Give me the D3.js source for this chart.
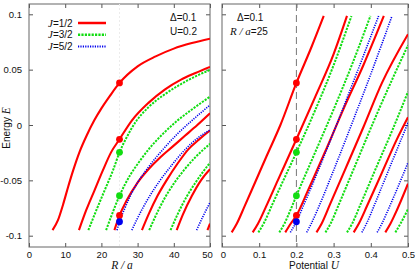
<!DOCTYPE html>
<html>
<head>
<meta charset="utf-8">
<script src="https://cdn.jsdelivr.net/npm/d3@7"></script>
<style>
  body { margin: 0; background: #fff; }
  svg { display: block; }
  text { font-family: "Liberation Sans", Arial, sans-serif; fill: #111; }
  .it { font-family: "Liberation Serif", "Times New Roman", serif; font-style: italic; }
</style>
</head>
<body>
<svg id="chart" width="415" height="272"></svg>
<script>
// ---- data ----
// left panel: energy E vs R/a  (U = 0.2)
const redVsR = [
  [[6.5,-.095],[8,-.086],[9.4,-.072],[10.8,-.056],[12.2,-.041],[14,-.024],[16,-.009],[18,.004],[20,.015],[22.5,.027],[25,.038],[30,.053],[35,.062],[40,.069],[45,.074],[50,.078]],
  [[13.8,-.095],[15.8,-.077],[18.1,-.059],[20.4,-.041],[22.7,-.0245],[25,-.0129],[28.4,.004],[33,.02],[37.5,.032],[42,.041],[46,.047],[50,.0525]],
  [[23.6,-.095],[25,-.0817],[27,-.068],[30,-.052],[33,-.04],[36,-.03],[39.5,-.02],[43,-.01],[46.5,0],[50,.0106]],
  [[31.2,-.095],[33,-.081],[35.5,-.064],[38,-.05],[41,-.035],[44,-.022],[47,-.013],[50,-.005]],
  [[40.8,-.095],[42.5,-.081],[45,-.064],[47.5,-.05],[50,-.04]],
  [[49.3,-.095],[50,-.089]]
];
const greenVsR = [
  [[16.4,-.095],[18.6,-.077],[20.9,-.059],[23.2,-.041],[25,-.0247],[27,-.011],[29.3,.002],[33,.016],[37.6,.028],[42,.037],[46,.044],[50,.0497]],
  [[21.3,-.095],[23,-.08],[25,-.0639],[28,-.045],[30.5,-.033],[33.3,-.021],[37,-.008],[41,.004],[45,.014],[50,.0256]],
  [[33.2,-.095],[35,-.082],[37.5,-.066],[40,-.053],[43,-.04],[46,-.029],[50,-.017]],
  [[39.1,-.095],[41,-.081],[43.5,-.065],[46,-.052],[50,-.034]]
];
const blueVsR = [
  [[24.3,-.095],[25,-.0874],[26.5,-.075],[28,-.064],[30,-.052],[33,-.038],[37.3,-.021],[41,-.008],[45,.004],[50,.018]],
  [[28.4,-.095],[30,-.084],[33,-.066],[36,-.051],[39.5,-.036],[43,-.0226],[46.5,-.012],[50,-.0045]],
  [[46.3,-.095],[48,-.083],[50,-.07]]
];

// right panel: energy E vs potential U  (R/a = 25)
const redVsU = [
  [[.026,-.097],[.04,-.089],[.06,-.074],[.09,-.051],[.12,-.028],[.157,0],[.2,.038],[.24,.07],[.2734,.0985]],
  [[.0825,-.097],[.097,-.089],[.118,-.074],[.15,-.05],[.2,-.0129],[.25,.025],[.3,.064],[.336,.0985]],
  [[.17,-.097],[.185,-.089],[.2,-.0817],[.23,-.06],[.28,-.022],[.33,.017],[.38,.054],[.435,.0985]],
  [[.254,-.097],[.268,-.089],[.29,-.072],[.33,-.041],[.38,-.002],[.43,.038],[.5,.082]],
  [[.354,-.097],[.368,-.089],[.39,-.073],[.43,-.043],[.47,-.013],[.5,.007]],
  [[.439,-.097],[.453,-.089],[.47,-.077],[.5,-.053]]
];
const greenVsU = [
  [[.0977,-.097],[.112,-.089],[.135,-.072],[.165,-.05],[.2,-.0247],[.25,.013],[.3,.054],[.348,.0985]],
  [[.154,-.097],[.168,-.089],[.185,-.076],[.2,-.0639],[.25,-.025],[.3,.014],[.35,.055],[.399,.0985]],
  [[.278,-.097],[.292,-.089],[.315,-.071],[.36,-.035],[.41,.005],[.46,.043],[.5,.072]],
  [[.336,-.097],[.35,-.089],[.372,-.072],[.41,-.042],[.46,-.003],[.5,.03]],
  [[.466,-.097],[.48,-.089],[.5,-.076]]
];
const blueVsU = [
  [[.1837,-.097],[.2,-.0874],[.22,-.072],[.26,-.04],[.31,.002],[.36,.045],[.421,.0985]],
  [[.2276,-.097],[.24,-.089],[.26,-.074],[.3,-.041],[.35,.002],[.4,.046],[.457,.0985]],
  [[.376,-.097],[.39,-.088],[.41,-.072],[.45,-.039],[.5,.002]],
  [[.417,-.097],[.43,-.089],[.45,-.074],[.5,-.034]]
];

// marked states at R/a = 25, U = 0.2
const redDots = [.038, -.0129, -.0817];
const greenDots = [-.0247, -.0639];
const blueDots = [-.0874];

const yTicks = [-0.1, -0.05, 0, 0.05, 0.1];
const rTicks = [0, 10, 20, 30, 40, 50];
const uTicks = [0, 0.1, 0.2, 0.3, 0.4, 0.5];

const series = [
  { key: 'J=1/2', color: '#ff0000', dash: null, width: 2.1, r: redVsR, u: redVsU, dots: redDots },
  { key: 'J=3/2', color: '#11dd11', dash: '2.2,1.2', width: 2, r: greenVsR, u: greenVsU, dots: greenDots },
  { key: 'J=5/2', color: '#0000ee', dash: '1.2,1.2', width: 1.6, r: blueVsR, u: blueVsU, dots: blueDots }
];

// ---- layout ----
const svg = d3.select('#chart');
const yTop = 4, yBot = 247;
const yE = d3.scaleLinear().domain([-0.1, 0.1]).range([235.7, 14.3]);
const xR = d3.scaleLinear().domain([0, 50]).range([29, 210]);
const xU = d3.scaleLinear().domain([0, 0.5]).range([222, 408]);

function panel(id, x, ticks, showY) {
  const [x0, x1] = x.range();
  svg.append('clipPath').attr('id', id)
    .append('rect').attr('x', x0).attr('y', yTop).attr('width', x1 - x0).attr('height', yBot - yTop);

  const axes = svg.append('g').attr('class', 'axes');
  const style = g => {
    g.select('.domain').remove();
    g.selectAll('.tick line').attr('stroke', '#555');
    g.selectAll('.tick text').attr('font-size', 9.5).attr('fill', '#111');
  };
  axes.append('g').attr('class', 'xaxis').attr('transform', `translate(0,${yBot})`)
    .call(d3.axisBottom(x).tickValues(ticks).tickSize(-4).tickPadding(4).tickFormat(d => String(d)))
    .call(style);
  axes.append('g').attr('transform', `translate(0,${yTop})`)
    .call(d3.axisTop(x).tickValues(ticks).tickSize(-4).tickFormat(''))
    .call(style);
  axes.append('g').attr('transform', `translate(${x0},0)`)
    .call(d3.axisLeft(yE).tickValues(yTicks).tickSize(-4).tickPadding(7)
      .tickFormat(showY ? (d => String(d)) : ''))
    .call(style);
  axes.append('g').attr('transform', `translate(${x1},0)`)
    .call(d3.axisRight(yE).tickValues(yTicks).tickSize(-4).tickFormat(''))
    .call(style);

  svg.append('rect')
    .attr('x', x0).attr('y', yTop).attr('width', x1 - x0).attr('height', yBot - yTop)
    .attr('fill', 'none').attr('stroke', '#666').attr('stroke-width', 1);

  return { g: svg.append('g').attr('clip-path', `url(#${id})`), axes };
}

const L = panel('clipL', xR, rTicks, true);
const Rp = panel('clipR', xU, uTicks, false);
const left = L.g, right = Rp.g;

// nudge the touching "50" and "0" labels apart
L.axes.select('.xaxis').selectAll('.tick text').filter(d => d === 50).attr('dx', -3);
Rp.axes.select('.xaxis').selectAll('.tick text').filter(d => d === 0).attr('dx', 1);

// guide lines at the marked parameter values
left.append('line')
  .attr('x1', xR(25)).attr('x2', xR(25)).attr('y1', yTop).attr('y2', yBot)
  .attr('stroke', '#ececec').attr('stroke-dasharray', '2,2');
right.append('line')
  .attr('x1', xU(0.2)).attr('x2', xU(0.2)).attr('y1', yTop).attr('y2', yBot)
  .attr('stroke', '#777').attr('stroke-width', 1).attr('stroke-dasharray', '7,4');

const lineR = d3.line().x(d => xR(d[0])).y(d => yE(d[1])).curve(d3.curveMonotoneX);
const lineU = d3.line().x(d => xU(d[0])).y(d => yE(d[1])).curve(d3.curveMonotoneX);

series.forEach(s => {
  left.selectAll(null).data(s.r).enter().append('path')
    .attr('d', lineR).attr('fill', 'none')
    .attr('stroke', s.color).attr('stroke-width', s.width)
    .attr('stroke-dasharray', s.dash);
  right.selectAll(null).data(s.u).enter().append('path')
    .attr('d', lineU).attr('fill', 'none')
    .attr('stroke', s.color).attr('stroke-width', s.width)
    .attr('stroke-dasharray', s.dash);
});

series.forEach(s => {
  left.selectAll(null).data(s.dots).enter().append('circle')
    .attr('cx', xR(25)).attr('cy', d => yE(d)).attr('r', 3.4).attr('fill', s.color);
  right.selectAll(null).data(s.dots).enter().append('circle')
    .attr('cx', xU(0.2)).attr('cy', d => yE(d)).attr('r', 3.4).attr('fill', s.color);
});

// legend
const legend = svg.append('g');
series.forEach((s, i) => {
  const y = 23 + i * 11.7;
  const t = legend.append('text').attr('x', 48).attr('y', y + 3.5).attr('font-size', 10);
  t.append('tspan').attr('class', 'it').attr('font-size', 11).text('J');
  t.append('tspan').text(s.key.slice(1));
  legend.append('line').attr('x1', 78).attr('x2', 106).attr('y1', y).attr('y2', y)
    .attr('stroke', s.color).attr('stroke-width', s.width + 0.4).attr('stroke-dasharray', s.dash);
});

// parameter notes
svg.append('text').attr('x', 170).attr('y', 21).attr('font-size', 10).text('Δ=0.1');
svg.append('text').attr('x', 170).attr('y', 35).attr('font-size', 10).text('U=0.2');
svg.append('text').attr('x', 237).attr('y', 21).attr('font-size', 10).text('Δ=0.1');
const ra = svg.append('text').attr('x', 230).attr('y', 35).attr('font-size', 10);
ra.append('tspan').attr('class', 'it').attr('font-size', 11).text('R');
ra.append('tspan').attr('class', 'it').attr('font-size', 11).text(' / ');
ra.append('tspan').attr('class', 'it').attr('font-size', 11).text('a');
ra.append('tspan').text('=25');

// axis titles
svg.append('text').attr('x', 122).attr('y', 269).attr('text-anchor', 'middle')
  .attr('class', 'it').attr('font-size', 11.5).text('R / a');
const ut = svg.append('text').attr('x', 314).attr('y', 269).attr('text-anchor', 'middle').attr('font-size', 10);
ut.append('tspan').text('Potential ');
ut.append('tspan').attr('class', 'it').attr('font-size', 11.5).text('U');
const et = svg.append('text').attr('transform', 'translate(10,128) rotate(-90)')
  .attr('text-anchor', 'middle').attr('font-size', 10);
et.append('tspan').text('Energy ');
et.append('tspan').attr('class', 'it').attr('font-size', 11.5).text('E');
</script>
</body>
</html>
